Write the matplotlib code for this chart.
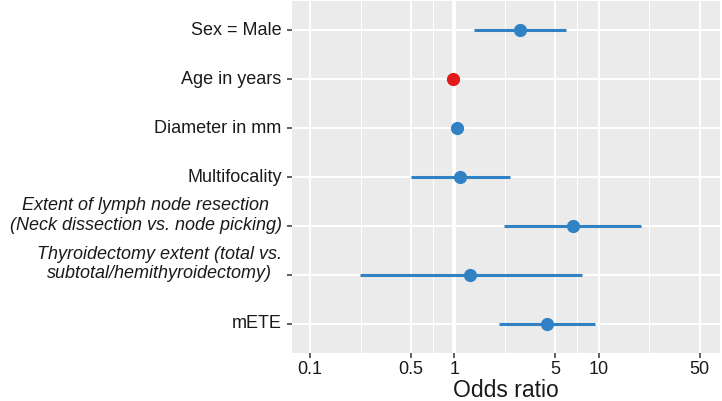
import numpy as np
import matplotlib.pyplot as plt
from matplotlib import transforms

plt.rcParams['font.family'] = ['Liberation Sans', 'DejaVu Sans']

# data
labels = ["Sex = Male", "Age in years", "Diameter in mm", "Multifocality",
          "Extent of lymph node resection\n(Neck dissection vs. node picking)",
          "Thyroidectomy extent (total vs.\nsubtotal/hemithyroidectomy)",
          "mETE"]
odds = [2.84, 0.98, 1.045, 1.10, 6.57, 1.29, 4.35]
ci_low = [1.37, 0.975, 0.96, 0.50, 2.20, 0.222, 2.03]
ci_high = [5.90, 0.985, 1.14, 2.42, 19.7, 7.60, 9.40]
colors = ["#3182c4", "#e31a1c", "#3182c4", "#3182c4", "#3182c4", "#3182c4", "#3182c4"]
italic = [False, False, False, False, True, True, False]
label_dy = [0, 0, 0, 0, -0.21, -0.22, 0]   # multi-line labels sit a bit off their tick
xticks = [0.1, 0.5, 1, 5, 10, 50]

fig = plt.figure(figsize=(7.22, 4.01), dpi=100)
ax = fig.add_axes([292/722, 1 - 353/401, (720 - 292)/722, (353 - 1)/401])
ax.set_facecolor("#EBEBEB")

ypos = np.arange(1, len(labels) + 1)
ax.set_xscale("log")
ax.set_xlim(0.075, 69)
ax.set_ylim(len(labels) + 0.6, 0.4)

# grid: majors plus ggplot style minor lines at log midpoints
logt = np.log10(xticks)
minors = 10 ** ((logt[:-1] + logt[1:]) / 2)
for m in minors:
    ax.axvline(m, color="white", lw=0.7, zorder=0)
for t in xticks:
    ax.axvline(t, color="white", lw=1.4, zorder=0)
ax.axvline(1, color="white", lw=2.8, zorder=0)
for y in ypos:
    ax.axhline(y, color="white", lw=1.4, zorder=0)

for y, o, lo, hi, c in zip(ypos, odds, ci_low, ci_high, colors):
    ax.plot([lo, hi], [y, y], color=c, lw=2.2, solid_capstyle="butt", zorder=2)
    ax.plot(o, y, "o", color=c, ms=9.5, mec="none", zorder=3)

for s in ax.spines.values():
    s.set_visible(False)

ax.set_xticks(xticks)
ax.set_xticklabels([str(t) for t in xticks])
ax.xaxis.set_minor_locator(plt.NullLocator())
ax.set_yticks(ypos)
ax.set_yticklabels([""] * len(labels))
ax.tick_params(axis="both", length=3.5, width=1.1, color="#333333",
               labelsize=13, labelcolor="#1a1a1a", pad=2)

trans = transforms.blended_transform_factory(ax.transAxes, ax.transData)
for y, lab, it, dy in zip(ypos, labels, italic, label_dy):
    ax.annotate(lab, xy=(0, y + dy), xycoords=trans, xytext=(-7.5, 0),
                textcoords="offset points", ha="right", va="center",
                multialignment="center", fontsize=13,
                linespacing=1.22, style="italic" if it else "normal",
                color="#1a1a1a")

ax.set_xlabel("Odds ratio", fontsize=16.5, labelpad=1, color="#1a1a1a")

fig.savefig("out.png", dpi=100)
